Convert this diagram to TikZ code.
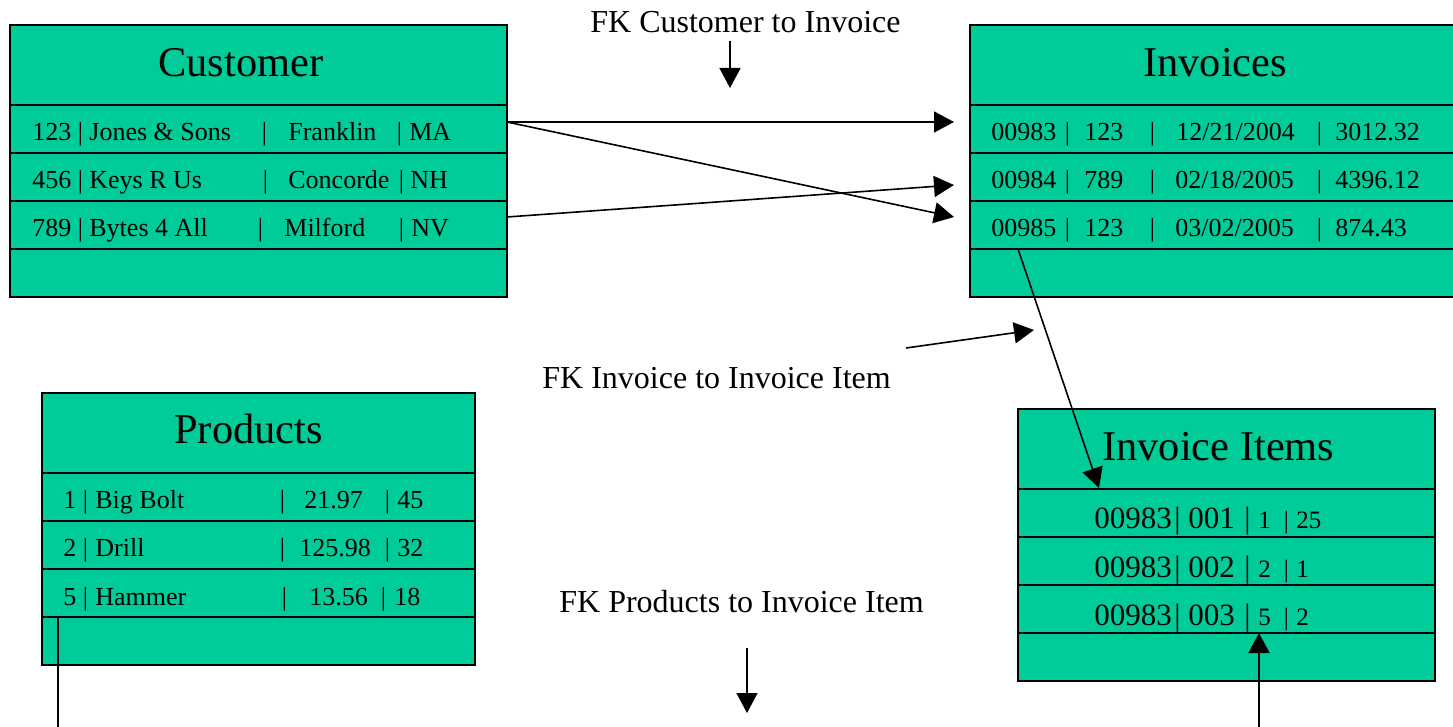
\documentclass[tikz,border=0pt]{standalone}
\usepackage{fontspec}
\setmainfont{Liberation Serif}
\usetikzlibrary{arrows.meta}
\definecolor{tablegreen}{RGB}{0,204,153}

% one drawing unit = 0.5pt; column pieces are placed at absolute x positions
\newlength\pxu \setlength\pxu{0.5pt}
\newcommand\putat[2]{\rlap{\hspace*{#1\pxu}#2}}
\newcommand\barat[1]{\rlap{\hspace*{#1\pxu}\makebox[0pt]{|}}}

\tikzset{
  tablebox/.style={draw=black, line width=1pt, fill=tablegreen},
  rowrule/.style={draw=black, line width=1pt},
  headtext/.style={anchor=base west, inner sep=0pt, font=\fontsize{21.2pt}{24pt}\selectfont},
  rowtext/.style={anchor=base west, inner sep=0pt, font=\fontsize{13pt}{15pt}\selectfont},
  itemtext/.style={anchor=base west, inner sep=0pt, font=\fontsize{15.5pt}{18pt}\selectfont},
  fklabel/.style={anchor=base west, inner sep=0pt, font=\fontsize{16pt}{19pt}\selectfont},
  link/.style={draw=black, line width=0.8pt, -{Triangle[length=10pt,width=10.5pt]}},
  plainlink/.style={draw=black, line width=0.8pt},
}

% table outline: left, top, right, bottom; 80 high header, then 48 high rows
\newcommand\dbtable[4]{%
  \draw[tablebox] (#1,#2) rectangle (#3,#4);
  \foreach \k in {0,1,2,3}
    \draw[rowrule] ({#1},{#2+80+48*\k}) -- ({#3},{#2+80+48*\k});
}

\begin{document}
\begin{tikzpicture}[x=0.5pt, y=-0.5pt]
\useasboundingbox (0,0) rectangle (1453,727);

% ---------- tables ----------
\dbtable{10}{25}{507}{297}
\dbtable{970}{25}{1460}{297}
\dbtable{42}{393}{475}{665}
\dbtable{1018}{409}{1435}{681}

% ---------- Customer ----------
\node[headtext] (custhead) at (158,77) {Customer};
\node[rowtext] (cust1) at (0,141) {\putat{31}{123}\barat{79}\putat{88}{Jones \& Sons}\barat{263}\putat{287}{Franklin}\barat{398}\putat{408}{MA}};
\node[rowtext] (cust2) at (0,189) {\putat{31}{456}\barat{79}\putat{88}{Keys R Us}\barat{264}\putat{287}{Concorde}\barat{400}\putat{409}{NH}};
\node[rowtext] (cust3) at (0,237) {\putat{31}{789}\barat{79}\putat{88}{Bytes 4 All}\barat{259}\putat{283}{Milford}\barat{400}\putat{410}{NV}};

% ---------- Invoices ----------
\node[headtext] (invhead) at (1143,77) {Invoices};
\node[rowtext] (inv1) at (0,141) {\putat{990}{00983}\barat{1066}\putat{1083}{123}\barat{1151}\putat{1175}{12/21/2004}\barat{1318}\putat{1334}{3012.32}};
\node[rowtext] (inv2) at (0,189) {\putat{990}{00984}\barat{1066}\putat{1083}{789}\barat{1151}\putat{1174}{02/18/2005}\barat{1318}\putat{1334}{4396.12}};
\node[rowtext] (inv3) at (0,237) {\putat{990}{00985}\barat{1066}\putat{1083}{123}\barat{1151}\putat{1174}{03/02/2005}\barat{1318}\putat{1334}{874.43}};

% ---------- Products ----------
\node[headtext] (prodhead) at (174,444) {Products};
\node[rowtext] (prod1) at (0,509) {\putat{62}{1}\barat{84}\putat{94}{Big Bolt}\barat{281}\putat{303}{21.97}\barat{386}\putat{396}{45}};
\node[rowtext] (prod2) at (0,557) {\putat{62}{2}\barat{84}\putat{94}{Drill}\barat{281}\putat{298}{125.98}\barat{386}\putat{396}{32}};
\node[rowtext] (prod3) at (0,605) {\putat{62}{5}\barat{84}\putat{94}{Hammer}\barat{283}\putat{308}{13.56}\barat{382}\putat{393}{18}};

% ---------- Invoice Items ----------
\node[headtext] (itemhead) at (1102,461) {Invoice Items};
\node[itemtext] (item1) at (0,529) {\putat{1093}{00983}\barat{1176}\putat{1187}{001}\barat{1246}{\fontsize{12.5pt}{15pt}\selectfont\putat{1257}{1}\barat{1285}\putat{1295}{25}}};
\node[itemtext] (item2) at (0,577) {\putat{1093}{00983}\barat{1176}\putat{1187}{002}\barat{1246}{\fontsize{12.5pt}{15pt}\selectfont\putat{1257}{2}\barat{1285}\putat{1295}{1}}};
\node[itemtext] (item3) at (0,625) {\putat{1093}{00983}\barat{1176}\putat{1187}{003}\barat{1246}{\fontsize{12.5pt}{15pt}\selectfont\putat{1257}{5}\barat{1285}\putat{1295}{2}}};

% ---------- relationship labels ----------
\node[fklabel] (fkcust) at (590,33) {FK Customer to Invoice};
\node[fklabel] (fkinv) at (542,389) {FK Invoice to Invoice Item};
\node[fklabel] (fkprod) at (559,612) {FK Products to Invoice Item};

% ---------- connector end points ----------
\coordinate (c123) at (507,122);
\coordinate (c789) at (507,217);
\coordinate (i983) at (954,122);
\coordinate (i984) at (954,185);
\coordinate (i985) at (954,217);
\coordinate (i985foot) at (1018,249);
\coordinate (itemin) at (1099,488);
\coordinate (fkcuststart) at (730,41);
\coordinate (fkcustend) at (730,88);
\coordinate (fkinvstart) at (906,348);
\coordinate (fkinvend) at (1034,330);
\coordinate (fkprodstart) at (747,648);
\coordinate (fkprodend) at (747,713);
\coordinate (prodfoot) at (58,617);
\coordinate (prodout) at (58,727);
\coordinate (itemfoot) at (1259,727);
\coordinate (itemprod) at (1259,633);

% ---------- connectors ----------
\draw[link] (c123) -- (i983);
\draw[link] (c123) -- (i985);
\draw[link] (c789) -- (i984);
\draw[link] (fkcuststart) -- (fkcustend);
\draw[link] (i985foot) -- (itemin);
\draw[link] (fkinvstart) -- (fkinvend);
\draw[link] (fkprodstart) -- (fkprodend);
\draw[plainlink] (prodfoot) -- (prodout);
\draw[link] (itemfoot) -- (itemprod);
\end{tikzpicture}
\end{document}
